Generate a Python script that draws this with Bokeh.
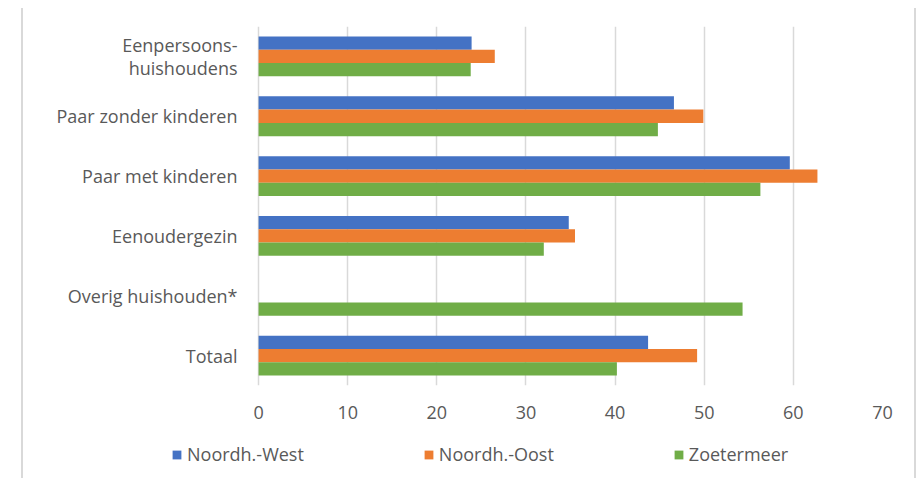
from bokeh.plotting import figure
from bokeh.layouts import column
from bokeh.models import Range1d, FactorRange, FixedTicker, Legend, LegendItem, ColumnDataSource
from bokeh.transform import dodge
from bokeh.embed import file_html
from bokeh.resources import INLINE

nan = float("nan")

categories = ["Eenpersoons-\nhuishoudens", "Paar zonder kinderen", "Paar met kinderen",
              "Eenoudergezin", "Overig huishouden*", "Totaal"]
series_names = ["Noordh.-West", "Noordh.-Oost", "Zoetermeer"]
noordh_west = [23.9, 46.6, 59.6, 34.8, nan, 43.7]
noordh_oost = [26.5, 49.9, 62.7, 35.5, nan, 49.2]
zoetermeer = [23.8, 44.8, 56.3, 32.0, 54.3, 40.2]
x_ticks = [0, 10, 20, 30, 40, 50, 60, 70]

FONT = "Open Sans"
FSIZE = "18px"
GRAY = "#595959"
colors = ["#4472C4", "#ED7D31", "#70AD47"]
BORDER = {"border-left": "2px solid #d9d9d9", "border-right": "2px solid #d9d9d9"}

source = ColumnDataSource(dict(cat=categories, nw=noordh_west, no=noordh_oost, zm=zoetermeer))

p = figure(width=895, height=424, output_backend="svg", toolbar_location=None,
           y_range=FactorRange(*list(reversed(categories)), range_padding=0),
           x_range=Range1d(-11.79, 70),
           min_border_left=130, min_border_right=36, min_border_top=18, min_border_bottom=47)
p.styles = BORDER
p.outline_line_color = None

h = 0.222
for col, off, color in zip(["nw", "no", "zm"], [h, 0, -h], colors):
    p.hbar(y=dodge("cat", off, range=p.y_range), right=col, left=0, height=h,
           source=source, fill_color=color, line_color=None)

p.ygrid.grid_line_color = None
p.xgrid.grid_line_color = "#d9d9d9"
p.xgrid.grid_line_width = 1.5
p.xaxis.ticker = FixedTicker(ticks=x_ticks)

for ax in (p.xaxis[0], p.yaxis[0]):
    ax.axis_line_color = None
    ax.major_tick_line_color = None
    ax.minor_tick_line_color = None
    ax.major_tick_out = 0
    ax.major_tick_in = 0
    ax.major_label_text_font = FONT
    ax.major_label_text_font_size = FSIZE
    ax.major_label_text_color = GRAY
p.yaxis.major_label_text_line_height = 0.97
p.xaxis.major_label_standoff = 20
p.yaxis.major_label_standoff = -84

# legend strip below the chart
lg = figure(width=895, height=46, output_backend="svg", toolbar_location=None,
            x_axis_location=None, y_axis_location=None,
            x_range=Range1d(0, 1), y_range=Range1d(0, 1),
            min_border_left=0, min_border_right=0, min_border_top=0, min_border_bottom=0)
lg.styles = BORDER
lg.outline_line_color = None
lg.xgrid.grid_line_color = None
lg.ygrid.grid_line_color = None
empty = ColumnDataSource(dict(y=[nan], right=[nan]))
lrs = [lg.hbar(y="y", right="right", left=0, height=0.1, source=empty,
               fill_color=c, line_color=None) for c in colors]

legend = Legend(items=[LegendItem(label=n, renderers=[r]) for n, r in zip(series_names, lrs)],
                orientation="horizontal", location=(18, 12),
                glyph_width=11, glyph_height=11, label_height=20,
                label_standoff=5, spacing=119, padding=0, margin=0,
                border_line_color=None, background_fill_alpha=0,
                label_text_font=FONT, label_text_font_size=FSIZE, label_text_color=GRAY)
lg.add_layout(legend, "center")

layout = column(p, lg, spacing=0)
layout.margin = (8, 0, 0, 21)

open("out.html", "w").write(file_html(layout, INLINE))
